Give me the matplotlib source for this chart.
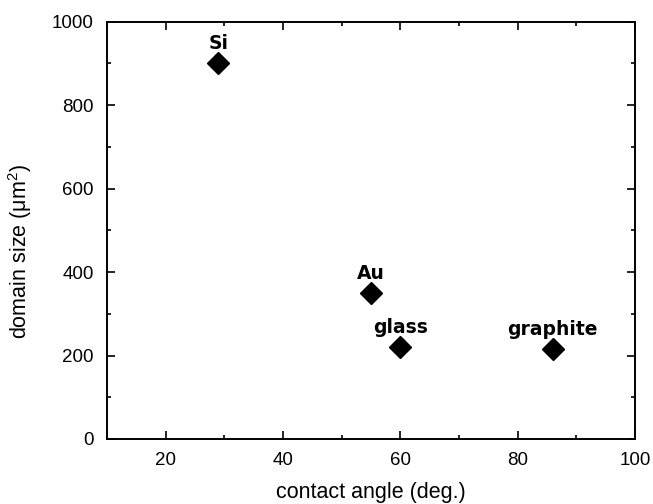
import numpy as np
import matplotlib
matplotlib.use('Agg')
import matplotlib.pyplot as plt
from matplotlib.ticker import MultipleLocator

# 数据：接触角与畴尺寸
substrates = ['Si', 'Au', 'glass', 'graphite']
contact_angle = [29, 55, 60, 86]
domain_size = [900, 350, 220, 215]

plt.rcParams['font.family'] = ['Liberation Sans', 'DejaVu Sans']

fig = plt.figure(figsize=(6.53, 5.04), dpi=100)
ax = fig.add_axes([0.1639, 0.129, 0.8085, 0.828])

ax.plot(contact_angle, domain_size, 'D', color='black', markersize=11.5, linestyle='none')

# 标注每个基底名称
for name, x, y in zip(substrates, contact_angle, domain_size):
    ax.annotate(name, (x, y), xytext=(0, 14), textcoords='offset points',
                ha='center', va='center', fontsize=13.5, fontweight='bold',
                family='DejaVu Sans')

ax.set_xlim(10, 100)
ax.set_ylim(0, 1000)
ax.xaxis.set_major_locator(MultipleLocator(20))
ax.xaxis.set_minor_locator(MultipleLocator(10))
ax.yaxis.set_major_locator(MultipleLocator(200))
ax.yaxis.set_minor_locator(MultipleLocator(100))
ax.set_xticks([20, 40, 60, 80, 100])
ax.tick_params(which='both', direction='in', top=True, right=True, width=1.2)
ax.tick_params(which='major', length=6, labelsize=13.5, pad=9.5)
ax.tick_params(which='minor', length=3.2)
for s in ax.spines.values():
    s.set_linewidth(1.4)

ax.set_xlabel('contact angle (deg.)', fontsize=15.5, labelpad=9)
ax.set_ylabel('domain size ($\\mathregular{\\mu m^2}$)', fontsize=15.5)
ax.yaxis.set_label_coords(-0.138, 0.45)

fig.savefig('out.png', dpi=100)
